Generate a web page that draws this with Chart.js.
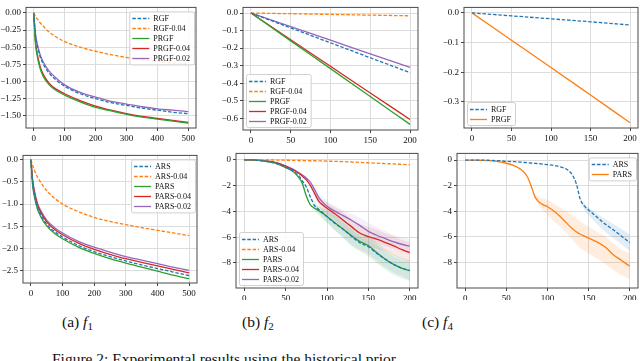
<!DOCTYPE html>
<html>
<head>
<meta charset="utf-8">
<script src="https://cdn.jsdelivr.net/npm/chart.js@4.4.1/dist/chart.umd.min.js"></script>
<style>
body { margin: 0; width: 640px; height: 361px; overflow: hidden; background: #fff; position: relative; }
canvas { position: absolute; }
.cap { position: absolute; font-family: "Liberation Serif", serif; font-size: 15.5px; line-height: 16px; color: #111; white-space: nowrap; }
.cap sub { font-size: 11px; vertical-align: -3px; line-height: 0; }
</style>
</head>
<body>
<canvas id="c1"></canvas>
<canvas id="c2"></canvas>
<canvas id="c3"></canvas>
<canvas id="c4"></canvas>
<canvas id="c5"></canvas>
<canvas id="c6"></canvas>
<div class="cap" style="left:62px;top:314px">(a) <i>f</i><sub>1</sub></div>
<div class="cap" style="left:242px;top:314px">(b) <i>f</i><sub>2</sub></div>
<div class="cap" style="left:422px;top:314px">(c) <i>f</i><sub>4</sub></div>
<div class="cap" style="left:52px;top:351px">Figure 2: Experimental results using the historical prior.</div>
<script>
// ---- data ----
// (a) f1, top: RGF family
const xsF1 = [0, 5, 10, 20, 30, 50, 75, 100, 150, 200, 250, 300, 350, 400, 450, 500];
const rgfF1     = [0, -0.30, -0.45, -0.63, -0.74, -0.88, -0.99, -1.07, -1.18, -1.25, -1.31, -1.35, -1.39, -1.42, -1.45, -1.47];
const rgf04F1   = [0, -0.045, -0.08, -0.14, -0.19, -0.28, -0.36, -0.42, -0.50, -0.56, -0.61, -0.65, -0.68, -0.71, -0.73, -0.75];
const prgfF1    = [0, -0.42, -0.60, -0.80, -0.92, -1.05, -1.14, -1.20, -1.30, -1.38, -1.43, -1.48, -1.52, -1.55, -1.58, -1.61];
const prgf04F1  = [0, -0.38, -0.56, -0.77, -0.89, -1.03, -1.12, -1.18, -1.28, -1.36, -1.42, -1.47, -1.51, -1.54, -1.57, -1.60];
const prgf02F1  = [0, -0.28, -0.42, -0.60, -0.71, -0.85, -0.96, -1.05, -1.16, -1.23, -1.29, -1.33, -1.37, -1.40, -1.42, -1.44];

// (b) f2, top
const xsF2 = [0, 50, 100, 150, 200];
const rgfF2     = [0, -0.085, -0.170, -0.255, -0.340];
const rgf04F2   = [0, -0.004, -0.008, -0.012, -0.016];
const prgfF2    = [0, -0.159, -0.317, -0.476, -0.635];
const prgf04F2  = [0, -0.152, -0.304, -0.456, -0.607];
const prgf02F2  = [0, -0.078, -0.155, -0.233, -0.310];

// (c) f4, top
const xsF4 = [0, 50, 100, 150, 200];
const rgfF4  = [0, -0.010, -0.020, -0.030, -0.041];
const prgfF4 = [0, -0.092, -0.184, -0.277, -0.370];

// (a) f1, bottom: ARS family
const arsF1     = [0, -0.50, -0.75, -1.05, -1.22, -1.45, -1.62, -1.74, -1.93, -2.07, -2.18, -2.28, -2.37, -2.45, -2.53, -2.61];
const ars04F1   = [0, -0.12, -0.22, -0.38, -0.50, -0.70, -0.87, -1.00, -1.17, -1.30, -1.39, -1.46, -1.53, -1.59, -1.65, -1.71];
const parsF1    = [0, -0.55, -0.80, -1.10, -1.27, -1.49, -1.66, -1.78, -1.97, -2.11, -2.23, -2.33, -2.42, -2.51, -2.60, -2.68];
const pars04F1  = [0, -0.45, -0.70, -1.00, -1.17, -1.40, -1.57, -1.69, -1.88, -2.02, -2.13, -2.23, -2.31, -2.39, -2.47, -2.55];
const pars02F1  = [0, -0.42, -0.66, -0.96, -1.13, -1.36, -1.53, -1.65, -1.84, -1.97, -2.08, -2.18, -2.26, -2.34, -2.42, -2.49];

// (b) f2, bottom
const xsA2 = [0, 10, 20, 30, 40, 50, 60, 65, 70, 75, 80, 85, 90, 95, 100, 110, 120, 130, 140, 150, 160, 170, 180, 190, 200];
const arsA2    = [0, 0, -0.05, -0.15, -0.30, -0.55, -0.90, -1.15, -1.60, -2.10, -2.90, -3.55, -3.85, -4.10, -4.40, -4.95, -5.40, -5.95, -6.45, -6.75, -7.25, -7.70, -8.10, -8.40, -8.60];
const ars04A2  = [0, 0, 0, 0, -0.01, -0.02, -0.03, -0.04, -0.04, -0.05, -0.06, -0.06, -0.07, -0.08, -0.09, -0.11, -0.13, -0.16, -0.19, -0.22, -0.25, -0.28, -0.31, -0.34, -0.37];
const parsA2   = [0, 0, -0.05, -0.15, -0.30, -0.60, -0.95, -1.30, -1.80, -2.80, -3.50, -3.75, -3.95, -4.15, -4.40, -4.90, -5.40, -5.90, -6.35, -6.65, -7.20, -7.70, -8.10, -8.40, -8.60];
const pars04A2 = [0, 0, -0.04, -0.12, -0.25, -0.50, -0.80, -1.00, -1.25, -1.55, -2.00, -2.60, -3.20, -3.50, -3.75, -4.20, -4.70, -5.20, -5.70, -5.95, -6.15, -6.40, -6.65, -6.95, -7.20];
const pars02A2 = [0, 0, -0.04, -0.10, -0.22, -0.45, -0.75, -0.95, -1.15, -1.40, -1.75, -2.30, -2.90, -3.30, -3.60, -4.00, -4.35, -4.70, -5.10, -5.55, -5.85, -6.10, -6.35, -6.55, -6.70];
// shaded spread, (b) f2 bottom
const bandXsA2 = [80, 90, 100, 110, 120, 130, 140, 150, 160, 170, 180, 190, 200];
const arsHiA2    = [-2.8, -3.6, -4.0, -4.4, -4.9, -5.4, -5.9, -6.2, -6.6, -7.1, -7.5, -7.8, -8.0];
const arsLoA2    = [-3.0, -4.1, -4.8, -5.5, -6.0, -6.6, -7.0, -7.3, -7.8, -8.3, -8.7, -9.0, -9.3];
const parsHiA2   = [-3.4, -3.6, -3.9, -4.3, -4.7, -5.2, -5.6, -5.9, -6.4, -6.9, -7.3, -7.6, -7.8];
const parsLoA2   = [-3.6, -4.3, -4.9, -5.5, -6.1, -6.7, -7.1, -7.5, -8.0, -8.5, -8.9, -9.2, -9.4];
const pars04HiA2 = [-1.9, -2.9, -3.3, -3.7, -4.1, -4.6, -5.0, -5.2, -5.4, -5.7, -5.9, -6.2, -6.4];
const pars04LoA2 = [-2.1, -3.5, -4.2, -4.7, -5.3, -5.8, -6.4, -6.7, -6.9, -7.1, -7.4, -7.7, -8.0];
const pars02HiA2 = [-1.7, -2.6, -3.2, -3.6, -3.9, -4.2, -4.5, -4.9, -5.2, -5.5, -5.8, -6.0, -6.1];
const pars02LoA2 = [-1.8, -3.2, -4.0, -4.4, -4.8, -5.2, -5.7, -6.2, -6.5, -6.7, -6.9, -7.1, -7.3];

// (c) f4, bottom
const xsA4 = [0, 10, 20, 30, 40, 50, 60, 65, 70, 75, 80, 85, 90, 95, 100, 110, 120, 125, 130, 135, 140, 145, 150, 160, 170, 180, 190, 200];
const arsA4  = [0, 0, 0, -0.02, -0.05, -0.10, -0.13, -0.15, -0.17, -0.20, -0.23, -0.26, -0.29, -0.32, -0.36, -0.45, -0.62, -0.80, -1.15, -1.85, -3.10, -3.60, -3.90, -4.45, -5.00, -5.45, -5.95, -6.45];
const parsA4 = [0, 0, -0.02, -0.05, -0.12, -0.25, -0.45, -0.62, -0.85, -1.25, -2.00, -2.90, -3.30, -3.50, -3.65, -4.10, -4.70, -5.05, -5.35, -5.60, -5.80, -5.95, -6.10, -6.40, -6.80, -7.40, -7.85, -8.30];
const parsBandXsA4 = [85, 90, 100, 110, 120, 130, 140, 150, 160, 170, 180, 190, 200];
const parsHiA4 = [-2.7, -2.9, -3.1, -3.5, -3.9, -4.3, -4.8, -5.2, -5.6, -6.0, -6.5, -7.0, -7.3];
const parsLoA4 = [-3.0, -3.6, -4.3, -4.9, -5.5, -6.2, -6.9, -7.3, -7.7, -8.1, -8.6, -9.0, -9.3];
const arsBandXsA4 = [140, 145, 150, 160, 170, 180, 190, 200];
const arsHiA4 = [-3.0, -3.4, -3.7, -4.2, -4.6, -5.0, -5.4, -5.8];
const arsLoA4 = [-3.2, -3.9, -4.3, -5.0, -5.6, -6.1, -6.6, -7.1];

// ticks
const ticksX500 = [0, 100, 200, 300, 400, 500];
const ticksX200 = [0, 50, 100, 150, 200];
const ticksYF1 = [0, -0.25, -0.5, -0.75, -1, -1.25, -1.5];
const ticksYF2 = [0, -0.1, -0.2, -0.3, -0.4, -0.5, -0.6];
const ticksYF4 = [0, -0.1, -0.2, -0.3];
const ticksYA1 = [0, -0.5, -1, -1.5, -2, -2.5];
const ticksYA2 = [0, -2, -4, -6, -8];

const BLUE = "#1f77b4", ORANGE = "#ff7f0e", GREEN = "#2ca02c", RED = "#d62728", PURPLE = "#9467bd";

const fmt = (dec) => (v) => {
    const s = Math.abs(v).toFixed(dec);
    return v < 0 ? "\u2212" + s : s;
};

const pts = (xs, ys) => xs.map((x, i) => ({x: x, y: ys[i]}));

const line = (label, xs, ys, color, dashed) => ({
    label: label,
    data: pts(xs, ys),
    borderColor: color,
    borderWidth: 1.3,
    borderDash: dashed ? [3.5, 1.8] : [],
    pointRadius: 0,
    fill: false,
    cubicInterpolationMode: "monotone",
    order: 1
});

// upper edge + lower edge filled to it
const band = (xs, hi, lo, rgba) => [{
    band: true,
    data: pts(xs, hi),
    borderWidth: 0,
    pointRadius: 0,
    fill: false,
    cubicInterpolationMode: "monotone",
    order: 10
}, {
    band: true,
    data: pts(xs, lo),
    borderWidth: 0,
    pointRadius: 0,
    fill: "-1",
    backgroundColor: rgba,
    cubicInterpolationMode: "monotone",
    order: 10
}];

// frame round the plot area and a legend box inside it
const frameLegend = {
    id: "frameLegend",
    afterDraw(chart, args, opts) {
        const ctx = chart.ctx, a = chart.chartArea;
        ctx.save();
        ctx.strokeStyle = "#4a4a4a";
        ctx.lineWidth = 1;
        ctx.strokeRect(a.left, a.top, a.right - a.left, a.bottom - a.top);

        const items = chart.data.datasets.filter(d => !d.band);
        ctx.font = '8px "Liberation Serif"';
        const rowH = 10, lineL = 17, gap = 4;
        const textW = Math.max(...items.map(d => ctx.measureText(d.label).width));
        const w = 3 + lineL + gap + textW + 4, h = items.length * rowH + 3;
        const x0 = opts.pos === "ur" ? a.right - w - 2 : a.left + 3;
        const y0 = opts.pos === "ur" ? a.top + 4 : a.bottom - h - 3;
        ctx.fillStyle = "rgba(255,255,255,0.85)";
        ctx.strokeStyle = "#d0d0d0";
        ctx.beginPath();
        ctx.roundRect(x0 + 0.5, y0 + 0.5, w, h, 2);
        ctx.fill();
        ctx.stroke();
        items.forEach((d, i) => {
            const y = Math.round(y0 + 2 + rowH * i + rowH / 2) + 0.5;
            ctx.strokeStyle = d.borderColor;
            ctx.lineWidth = d.borderWidth;
            ctx.setLineDash(d.borderDash);
            ctx.beginPath();
            ctx.moveTo(x0 + 3, y);
            ctx.lineTo(x0 + 3 + lineL, y);
            ctx.stroke();
            ctx.setLineDash([]);
            ctx.fillStyle = "#111";
            ctx.textBaseline = "middle";
            ctx.fillText(d.label, x0 + 3 + lineL + gap, y);
        });
        ctx.restore();
    }
};

const tickFont = {family: "Liberation Serif", size: 9};

const makeChart = (id, box, area, xr, yr, xTicks, yTicks, yDec, legendPos, datasets) => {
    const cv = document.getElementById(id);
    cv.width = box.w;
    cv.height = box.h;
    cv.style.left = box.x + "px";
    cv.style.top = box.y + "px";
    return new Chart(cv, {
        type: "line",
        data: {datasets: datasets},
        plugins: [frameLegend],
        options: {
            responsive: false,
            animation: false,
            events: [],
            layout: {padding: {top: area.t - box.y, right: box.x + box.w - area.r, left: 0, bottom: 0}},
            plugins: {
                legend: {display: false},
                tooltip: {enabled: false},
                frameLegend: {pos: legendPos}
            },
            scales: {
                x: {
                    type: "linear",
                    min: xr[0],
                    max: xr[1],
                    afterBuildTicks: s => { s.ticks = xTicks.map(v => ({value: v})); },
                    afterFit: s => { s.height = box.y + box.h - area.b; },
                    border: {display: false},
                    grid: {color: "#dcdcdc", tickColor: "#444", tickLength: 3},
                    ticks: {font: tickFont, color: "#111", padding: 2, maxRotation: 0, callback: v => String(v)}
                },
                y: {
                    type: "linear",
                    min: yr[0],
                    max: yr[1],
                    afterBuildTicks: s => { s.ticks = yTicks.map(v => ({value: v})); },
                    afterFit: s => { s.width = area.l - box.x; },
                    border: {display: false},
                    grid: {color: "#dcdcdc", tickColor: "#444", tickLength: 3},
                    ticks: {font: tickFont, color: "#111", padding: 2, callback: fmt(yDec)}
                }
            }
        }
    });
};

makeChart("c1", {x: 0, y: 0, w: 200, h: 146}, {l: 26, t: 1, r: 196, b: 128},
    [-25, 525], [-1.68, 0.08], ticksX500, ticksYF1, 2, "ur", [
        line("RGF", xsF1, rgfF1, BLUE, true),
        line("RGF-0.04", xsF1, rgf04F1, ORANGE, true),
        line("PRGF", xsF1, prgfF1, GREEN, false),
        line("PRGF-0.04", xsF1, prgf04F1, RED, false),
        line("PRGF-0.02", xsF1, prgf02F1, PURPLE, false)
    ]);

makeChart("c2", {x: 207, y: 0, w: 216, h: 146}, {l: 243, t: 1, r: 418, b: 130},
    [-10, 210], [-0.667, 0.032], ticksX200, ticksYF2, 1, "ll", [
        line("RGF", xsF2, rgfF2, BLUE, true),
        line("RGF-0.04", xsF2, rgf04F2, ORANGE, true),
        line("PRGF", xsF2, prgfF2, GREEN, false),
        line("PRGF-0.04", xsF2, prgf04F2, RED, false),
        line("PRGF-0.02", xsF2, prgf02F2, PURPLE, false)
    ]);

makeChart("c3", {x: 428, y: 0, w: 212, h: 146}, {l: 464, t: 1, r: 638, b: 128},
    [-10, 210], [-0.388, 0.0185], ticksX200, ticksYF4, 1, "ll", [
        line("RGF", xsF4, rgfF4, BLUE, true),
        line("PRGF", xsF4, prgfF4, ORANGE, false)
    ]);

makeChart("c4", {x: 0, y: 148, w: 200, h: 152}, {l: 23, t: 155, r: 197, b: 283},
    [-25, 525], [-2.776, 0.096], ticksX500, ticksYA1, 1, "ur", [
        line("ARS", xsF1, arsF1, BLUE, true),
        line("ARS-0.04", xsF1, ars04F1, ORANGE, true),
        line("PARS", xsF1, parsF1, GREEN, false),
        line("PARS-0.04", xsF1, pars04F1, RED, false),
        line("PARS-0.02", xsF1, pars02F1, PURPLE, false)
    ]);

makeChart("c5", {x: 207, y: 146, w: 216, h: 154}, {l: 236, t: 151, r: 418, b: 288},
    [-10, 210], [-9.95, 0.51], ticksX200, ticksYA2, 0, "ll", [
        line("ARS", xsA2, arsA2, BLUE, true),
        line("ARS-0.04", xsA2, ars04A2, ORANGE, true),
        line("PARS", xsA2, parsA2, GREEN, false),
        line("PARS-0.04", xsA2, pars04A2, RED, false),
        line("PARS-0.02", xsA2, pars02A2, PURPLE, false),
        ...band(bandXsA2, arsHiA2, arsLoA2, "rgba(31,119,180,0.10)"),
        ...band(bandXsA2, parsHiA2, parsLoA2, "rgba(44,160,44,0.12)"),
        ...band(bandXsA2, pars04HiA2, pars04LoA2, "rgba(214,39,40,0.10)"),
        ...band(bandXsA2, pars02HiA2, pars02LoA2, "rgba(148,103,189,0.10)")
    ]);

makeChart("c6", {x: 428, y: 146, w: 212, h: 154}, {l: 457, t: 151, r: 638, b: 288},
    [-10, 210], [-10.0, 0.52], ticksX200, ticksYA2, 0, "ur", [
        line("ARS", xsA4, arsA4, BLUE, true),
        line("PARS", xsA4, parsA4, ORANGE, false),
        ...band(arsBandXsA4, arsHiA4, arsLoA4, "rgba(31,119,180,0.13)"),
        ...band(parsBandXsA4, parsHiA4, parsLoA4, "rgba(255,127,14,0.13)")
    ]);
</script>
</body>
</html>
